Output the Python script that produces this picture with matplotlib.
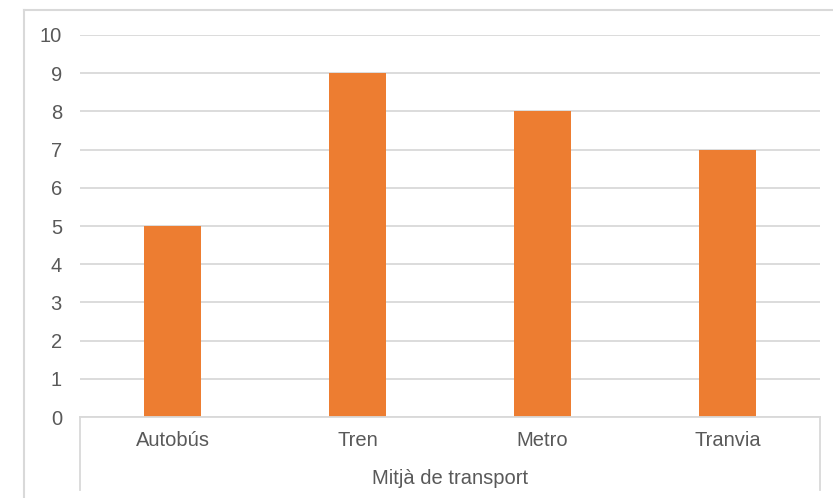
import matplotlib

matplotlib.use("Agg")
import matplotlib.pyplot as plt  # noqa: E402
from matplotlib.lines import Line2D  # noqa: E402

categories = ["Autobús", "Tren", "Metro", "Tranvia"]
values = [5, 9, 8, 7]
y_ticks = list(range(0, 11))
axis_title = "Mitjà de transport"

BAR = "#ED7D31"
GRID = "#D9D9D9"
TEXT = "#595959"
FS = 14.5

plt.rcParams["font.family"] = ["Liberation Sans", "DejaVu Sans"]

W, H = 833, 498
fig = plt.figure(figsize=(W / 100, H / 100), dpi=100)
ax = fig.add_axes([80 / W, 1 - 417 / H, 740 / W, 382 / H])

x = range(len(categories))
ax.bar(x, values, width=0.31, color=BAR, zorder=3)
ax.set_xlim(-0.5, len(categories) - 0.5)
ax.set_ylim(0, 10)
ax.set_yticks(y_ticks)
ax.yaxis.grid(True, color=GRID, lw=1.3, zorder=0)
ax.tick_params(axis="y", length=0, pad=13, labelsize=FS, labelcolor=TEXT)
ax.set_xticks([])
for s in ax.spines.values():
    s.set_visible(False)

# category box under the plot
box_bottom = -(490 - 417) / 382
ax.plot([0, 1], [0, 0], transform=ax.transAxes, color=GRID, lw=1.3,
        clip_on=False, zorder=4)
for xx in (0, 1):
    ax.plot([xx, xx], [0, box_bottom], transform=ax.transAxes, color=GRID,
            lw=1.3, clip_on=False)
for i, c in enumerate(categories):
    ax.text(i, -(440 - 417) / 38.2, c, ha="center", va="center",
            fontsize=FS, color=TEXT)
ax.text(0.5, -(478 - 417) / 382, axis_title, transform=ax.transAxes,
        ha="center", va="center", fontsize=FS, color=TEXT)

# chart area border (top and left visible)
fig.add_artist(Line2D([24 / W, 1], [1 - 10 / H, 1 - 10 / H], color=GRID, lw=1.5))
fig.add_artist(Line2D([24 / W, 24 / W], [0, 1 - 10 / H], color=GRID, lw=1.5))

fig.savefig("out.png", dpi=100, facecolor="white")
